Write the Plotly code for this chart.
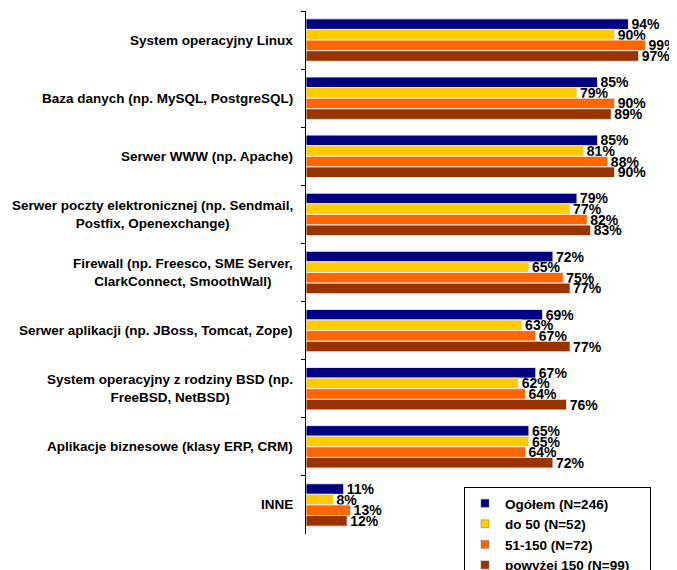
import plotly.graph_objects as go

categories = [
    "System operacyjny Linux",
    "Baza danych (np. MySQL, PostgreSQL)",
    "Serwer WWW (np. Apache)",
    "Serwer poczty elektronicznej (np. Sendmail,<br>Postfix, Openexchange)",
    "Firewall (np. Freesco, SME Server,<br>ClarkConnect, SmoothWall)",
    "Serwer aplikacji (np. JBoss, Tomcat, Zope)",
    "System operacyjny z rodziny BSD (np.<br>FreeBSD, NetBSD)",
    "Aplikacje biznesowe (klasy ERP, CRM)",
    "INNE",
]
series_names = ["Ogółem (N=246)", "do 50 (N=52)", "51-150 (N=72)", "powyżej 150 (N=99)"]
ogolem = [94, 85, 85, 79, 72, 69, 67, 65, 11]
do50 = [90, 79, 81, 77, 65, 63, 62, 65, 8]
s51_150 = [99, 90, 88, 82, 75, 67, 64, 64, 13]
powyzej150 = [97, 89, 90, 83, 77, 77, 76, 72, 12]
colors = ["#000080", "#FFCC00", "#FF6600", "#993300"]

FONT = "Liberation Sans, Arial, sans-serif"
ids = list(range(len(categories)))

fig = go.Figure()
for name, vals, col in zip(series_names, [ogolem, do50, s51_150, powyzej150], colors):
    fig.add_trace(go.Bar(
        y=ids, x=vals, orientation="h", name=name, legendgroup=name,
        showlegend=False,
        marker=dict(color=col, line=dict(color="#e8e8e8", width=1)),
        text=[f"{v}%" for v in vals], textposition="outside",
        constraintext="none", cliponaxis=False,
        textfont=dict(family=FONT, size=14, color="black", weight="bold"),
    ))
# legend entries with small square keys
for name, col in zip(series_names, colors):
    fig.add_trace(go.Scatter(
        x=[None], y=[None], mode="markers",
        name="<b>" + name + "</b>" + ("&nbsp;" * 4 if name.startswith("powy") else ""),
        legendgroup=name,
        marker=dict(symbol="square", size=8, color=col,
                    line=dict(color="#777777", width=0.5)),
    ))

for i, c in enumerate(categories):
    fig.add_annotation(
        x=0, xref="paper", y=i, yref="y", text="<b>" + c + "</b>",
        xanchor="right", yanchor="middle", align="center", showarrow=False,
        xshift=-11, font=dict(family=FONT, size=13.5, color="black"),
    )

fig.update_layout(
    width=669, height=562,
    margin=dict(l=298, r=28, t=3, b=36, autoexpand=False),
    paper_bgcolor="white", plot_bgcolor="white",
    barmode="group", bargap=0.27, bargroupgap=0,
    font=dict(family=FONT, size=13.5, color="black"),
    xaxis=dict(range=[0, 100], visible=False, showgrid=False, zeroline=False),
    yaxis=dict(
        type="category", range=[8.5, -0.5], showticklabels=False,
        showline=True, linecolor="black", linewidth=1,
        ticks="outside", ticklen=4, tickcolor="black", tickson="boundaries",
        showgrid=False, zeroline=False,
    ),
    legend=dict(
        x=0.4606, y=0.0899, xanchor="left", yanchor="top",
        bordercolor="black", borderwidth=1, bgcolor="white",
        font=dict(family=FONT, size=13.5, color="black"),
        itemclick=False, itemwidth=30, tracegroupgap=0,
    ),
    showlegend=True,
)

fig.write_html("out.html")
